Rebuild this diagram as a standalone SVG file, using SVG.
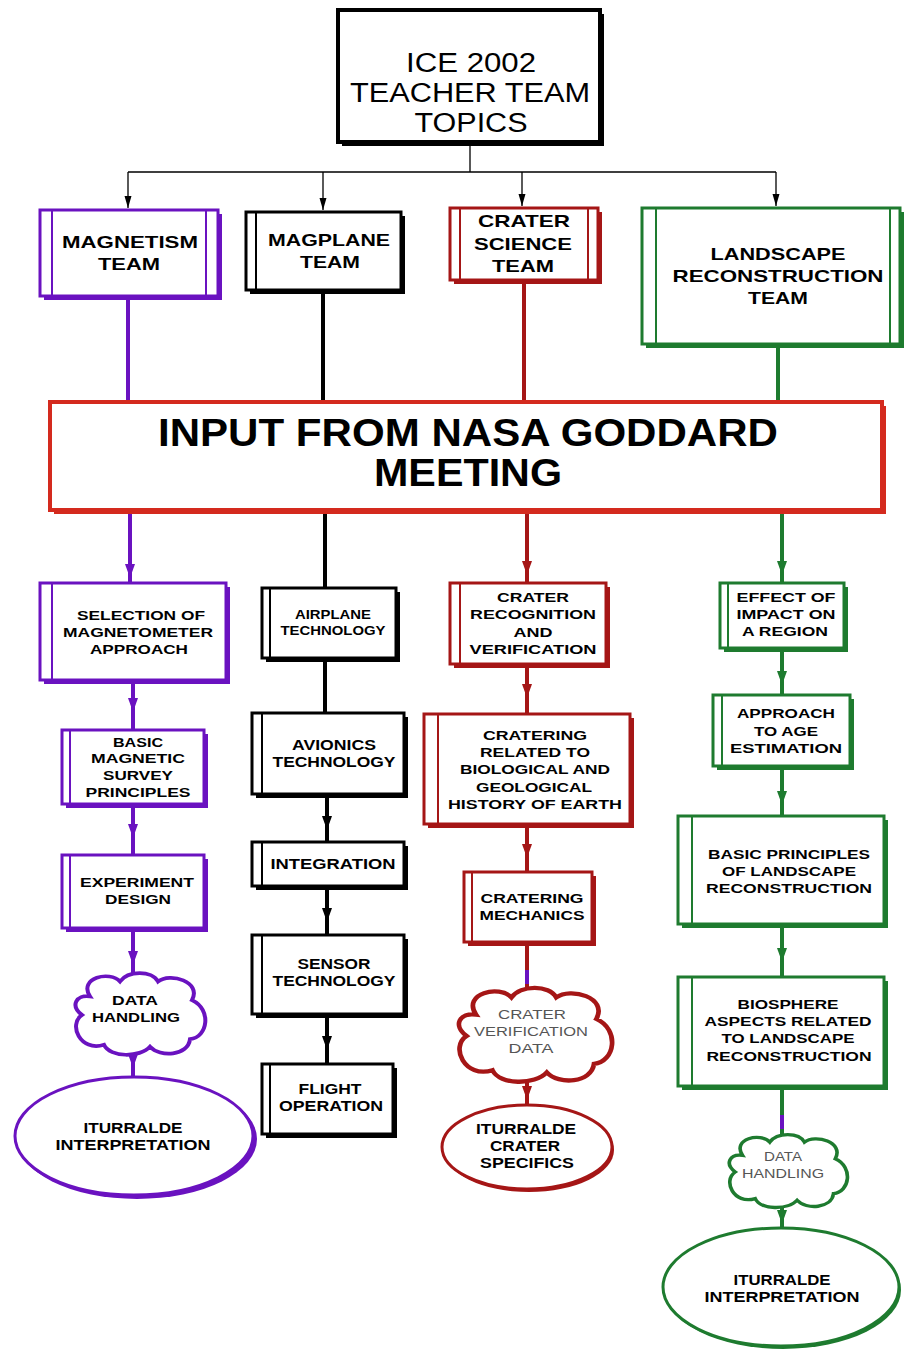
<svg xmlns="http://www.w3.org/2000/svg" width="905" height="1353" viewBox="0 0 905 1353">
<style>
text{font-family:"Liberation Sans",Arial,sans-serif;text-anchor:middle;font-weight:bold;fill:#000}
.bx{fill:#fff;stroke-width:3}
.st{stroke-width:2;fill:none}
.sp{stroke:#6a12c0}.fp{fill:#6a12c0}
.sk{stroke:#000}.fk{fill:#000}
.sr{stroke:#a51616}.fr{fill:#a51616}
.sg{stroke:#1e7b2f}.fg{fill:#1e7b2f}
.sn{stroke:#d42a1e}.fn{fill:#d42a1e}
.c{stroke-width:4;fill:none}
.thin{stroke:#000;stroke-width:1.3;fill:none}
.cl{fill:#fff;stroke-width:4;vector-effect:non-scaling-stroke}
.gray{font-weight:normal;fill:#555}
</style>
<defs>
<marker id="ak" viewBox="0 -6 16 12" refX="14" refY="0" markerWidth="16" markerHeight="12" markerUnits="userSpaceOnUse" orient="auto"><path d="M0,-5 L14,0 L0,5 Z" fill="#000"/></marker>
<marker id="ap" viewBox="0 -6 16 12" refX="14" refY="0" markerWidth="16" markerHeight="12" markerUnits="userSpaceOnUse" orient="auto"><path d="M0,-5 L14,0 L0,5 Z" fill="#6a12c0"/></marker>
<marker id="ar" viewBox="0 -6 16 12" refX="14" refY="0" markerWidth="16" markerHeight="12" markerUnits="userSpaceOnUse" orient="auto"><path d="M0,-5 L14,0 L0,5 Z" fill="#a51616"/></marker>
<marker id="ag" viewBox="0 -6 16 12" refX="14" refY="0" markerWidth="16" markerHeight="12" markerUnits="userSpaceOnUse" orient="auto"><path d="M0,-5 L14,0 L0,5 Z" fill="#1e7b2f"/></marker>
<marker id="at" viewBox="0 -5 12 10" refX="12" refY="0" markerWidth="12" markerHeight="10" markerUnits="userSpaceOnUse" orient="auto"><path d="M0,-3.5 L12,0 L0,3.5 Z" fill="#000"/></marker>
<path id="cloud" d="M-50,-20 C-62,-40 -30,-48 -20,-36 C-12,-48 12,-48 18,-36 C30,-46 62,-36 52,-16 C72,-6 68,24 50,26 C48,44 20,46 10,34 C0,46 -30,46 -36,32 C-60,40 -72,10 -58,0 C-70,-10 -64,-22 -50,-20 Z"/>
</defs>

<g id="connectors">
<path class="thin" d="M470,146 V172 M128,172 H776"/>
<path class="thin" d="M128,172 V208" marker-end="url(#at)"/>
<path class="thin" d="M323,172 V210" marker-end="url(#at)"/>
<path class="thin" d="M522,172 V206" marker-end="url(#at)"/>
<path class="thin" d="M776,172 V206" marker-end="url(#at)"/>
<path class="c sp" d="M128,300 V402"/>
<path class="c sk" d="M323,294 V402"/>
<path class="c sr" d="M524,284 V402"/>
<path class="c sg" d="M778,348 V402"/>
<path class="c sp" d="M130,514 V578 V583" marker-mid="url(#ap)"/>
<path class="c sp" d="M133,684 V712 V730" marker-mid="url(#ap)"/>
<path class="c sp" d="M133,808 V838 V855" marker-mid="url(#ap)"/>
<path class="c sp" d="M133,932 V965 V978" marker-mid="url(#ap)"/>
<path class="c sp" d="M133,1050 V1068 V1076" marker-mid="url(#ap)"/>
<path class="c sk" d="M325,514 V588"/>
<path class="c sk" d="M325,662 V713"/>
<path class="c sk" d="M327,798 V830 V842" marker-mid="url(#ak)"/>
<path class="c sk" d="M327,890 V922 V935" marker-mid="url(#ak)"/>
<path class="c sk" d="M327,1018 V1050 V1064" marker-mid="url(#ak)"/>
<path class="c sr" d="M527,514 V575 V583" marker-mid="url(#ar)"/>
<path class="c sr" d="M527,668 V698 V714" marker-mid="url(#ar)"/>
<path class="c sr" d="M527,828 V858 V872" marker-mid="url(#ar)"/>
<path class="c sr" d="M527,946 V990"/>
<path class="c sp" d="M527,970 V984"/>
<path class="c sr" d="M527,1080 V1100 V1106" marker-mid="url(#ar)"/>
<path class="c sg" d="M782,514 V575 V583" marker-mid="url(#ag)"/>
<path class="c sg" d="M782,652 V685 V695" marker-mid="url(#ag)"/>
<path class="c sg" d="M782,770 V805 V816" marker-mid="url(#ag)"/>
<path class="c sg" d="M782,928 V962 V977" marker-mid="url(#ag)"/>
<path class="c sg" d="M782,1090 V1138"/>
<path class="c sp" d="M782,1115 V1129"/>
<path class="c sg" d="M782,1205 V1224 V1228" marker-mid="url(#ag)"/>
</g>

<g id="title">
<rect class="fk" x="342" y="14" width="262" height="132"/>
<rect class="bx sk" style="stroke-width:4" x="338" y="10" width="262" height="132"/>
<text style="font-weight:normal;font-size:27px" x="471" y="72" textLength="130" lengthAdjust="spacingAndGlyphs">ICE 2002</text>
<text style="font-weight:normal;font-size:27px" x="470" y="102" textLength="240" lengthAdjust="spacingAndGlyphs">TEACHER TEAM</text>
<text style="font-weight:normal;font-size:27px" x="471" y="132" textLength="113" lengthAdjust="spacingAndGlyphs">TOPICS</text>
</g>

<g id="magnetism-team">
<rect class="fp" x="44" y="214" width="178" height="86"/>
<rect class="bx sp" x="40" y="210" width="178" height="86"/>
<path class="st sp" d="M52,210 V296 M206,210 V296"/>
<text style="font-size:17px" x="130" y="248" textLength="136" lengthAdjust="spacingAndGlyphs">MAGNETISM</text>
<text style="font-size:17px" x="129" y="270" textLength="62" lengthAdjust="spacingAndGlyphs">TEAM</text>
</g>
<g id="magplane-team">
<rect class="fk" x="250" y="216" width="155" height="78"/>
<rect class="bx sk" x="246" y="212" width="155" height="78"/>
<path class="st sk" d="M256,212 V290"/>
<text style="font-size:17px" x="329" y="246" textLength="122" lengthAdjust="spacingAndGlyphs">MAGPLANE</text>
<text style="font-size:17px" x="330" y="268" textLength="60" lengthAdjust="spacingAndGlyphs">TEAM</text>
</g>
<g id="crater-team">
<rect class="fr" x="454" y="212" width="148" height="72"/>
<rect class="bx sr" x="450" y="208" width="148" height="72"/>
<path class="st sr" d="M460,208 V280 M588,208 V280"/>
<text style="font-size:17px" x="524" y="227" textLength="92" lengthAdjust="spacingAndGlyphs">CRATER</text>
<text style="font-size:17px" x="523" y="250" textLength="98" lengthAdjust="spacingAndGlyphs">SCIENCE</text>
<text style="font-size:17px" x="523" y="272" textLength="62" lengthAdjust="spacingAndGlyphs">TEAM</text>
</g>
<g id="landscape-team">
<rect class="fg" x="646" y="212" width="258" height="136"/>
<rect class="bx sg" x="642" y="208" width="258" height="136"/>
<path class="st sg" d="M656,208 V344 M890,208 V344"/>
<text style="font-size:17px" x="778" y="260" textLength="135" lengthAdjust="spacingAndGlyphs">LANDSCAPE</text>
<text style="font-size:17px" x="778" y="282" textLength="211" lengthAdjust="spacingAndGlyphs">RECONSTRUCTION</text>
<text style="font-size:17px" x="778" y="304" textLength="60" lengthAdjust="spacingAndGlyphs">TEAM</text>
</g>

<g id="nasa">
<rect class="fn" x="54" y="406" width="832" height="108"/>
<rect class="bx sn" style="stroke-width:4" x="50" y="402" width="832" height="108"/>
<text style="font-size:38px" x="468" y="446" textLength="620" lengthAdjust="spacingAndGlyphs">INPUT  FROM NASA GODDARD</text>
<text style="font-size:38px" x="468" y="486" textLength="188" lengthAdjust="spacingAndGlyphs">MEETING</text>
</g>

<g id="selection" style="font-size:13px">
<rect class="fp" x="44" y="587" width="186" height="97"/>
<rect class="bx sp" x="40" y="583" width="186" height="97"/>
<path class="st sp" d="M52,583 V680"/>
<text style="font-size:13px" x="141" y="620" textLength="128" lengthAdjust="spacingAndGlyphs">SELECTION OF</text>
<text style="font-size:13px" x="138" y="637" textLength="150" lengthAdjust="spacingAndGlyphs">MAGNETOMETER</text>
<text style="font-size:13px" x="139" y="654" textLength="98" lengthAdjust="spacingAndGlyphs">APPROACH</text>
</g>
<g id="basic-magnetic">
<rect class="fp" x="66" y="734" width="142" height="74"/>
<rect class="bx sp" x="62" y="730" width="142" height="74"/>
<path class="st sp" d="M70,730 V804"/>
<text style="font-size:13px" x="138" y="747" textLength="50" lengthAdjust="spacingAndGlyphs">BASIC</text>
<text style="font-size:13px" x="138" y="763" textLength="94" lengthAdjust="spacingAndGlyphs">MAGNETIC</text>
<text style="font-size:13px" x="138" y="780" textLength="70" lengthAdjust="spacingAndGlyphs">SURVEY</text>
<text style="font-size:13px" x="138" y="797" textLength="105" lengthAdjust="spacingAndGlyphs">PRINCIPLES</text>
</g>
<g id="experiment">
<rect class="fp" x="66" y="859" width="142" height="73"/>
<rect class="bx sp" x="62" y="855" width="142" height="73"/>
<path class="st sp" d="M70,855 V928"/>
<text style="font-size:13px" x="137" y="887" textLength="114" lengthAdjust="spacingAndGlyphs">EXPERIMENT</text>
<text style="font-size:13px" x="138" y="904" textLength="66" lengthAdjust="spacingAndGlyphs">DESIGN</text>
</g>
<g id="data-handling-1">
<use href="#cloud" class="cl sp" transform="translate(140,1015) scale(1,0.93)"/>
<text style="font-size:13px" x="135" y="1005" textLength="46" lengthAdjust="spacingAndGlyphs">DATA</text>
<text style="font-size:13px" x="136" y="1022" textLength="88" lengthAdjust="spacingAndGlyphs">HANDLING</text>
</g>
<g id="iturralde-1">
<ellipse class="fp" cx="137" cy="1139" rx="120" ry="60"/>
<ellipse class="bx sp" cx="134" cy="1136" rx="119" ry="59"/>
<text style="font-size:14px" x="133" y="1133" textLength="99" lengthAdjust="spacingAndGlyphs">ITURRALDE</text>
<text style="font-size:14px" x="133" y="1150" textLength="155" lengthAdjust="spacingAndGlyphs">INTERPRETATION</text>
</g>

<g id="airplane">
<rect class="fk" x="266" y="592" width="134" height="70"/>
<rect class="bx sk" x="262" y="588" width="134" height="70"/>
<path class="st sk" d="M270,588 V658"/>
<text style="font-size:12px" x="333" y="619" textLength="76" lengthAdjust="spacingAndGlyphs">AIRPLANE</text>
<text style="font-size:12px" x="333" y="635" textLength="105" lengthAdjust="spacingAndGlyphs">TECHNOLOGY</text>
</g>
<g id="avionics">
<rect class="fk" x="256" y="717" width="152" height="81"/>
<rect class="bx sk" x="252" y="713" width="152" height="81"/>
<path class="st sk" d="M262,713 V794"/>
<text style="font-size:14px" x="334" y="750" textLength="84" lengthAdjust="spacingAndGlyphs">AVIONICS</text>
<text style="font-size:14px" x="334" y="767" textLength="123" lengthAdjust="spacingAndGlyphs">TECHNOLOGY</text>
</g>
<g id="integration">
<rect class="fk" x="256" y="846" width="152" height="44"/>
<rect class="bx sk" x="252" y="842" width="152" height="44"/>
<path class="st sk" d="M262,842 V886"/>
<text style="font-size:14px" x="333" y="869" textLength="125" lengthAdjust="spacingAndGlyphs">INTEGRATION</text>
</g>
<g id="sensor">
<rect class="fk" x="256" y="939" width="152" height="79"/>
<rect class="bx sk" x="252" y="935" width="152" height="79"/>
<path class="st sk" d="M262,935 V1014"/>
<text style="font-size:14px" x="334" y="969" textLength="73" lengthAdjust="spacingAndGlyphs">SENSOR</text>
<text style="font-size:14px" x="334" y="986" textLength="123" lengthAdjust="spacingAndGlyphs">TECHNOLOGY</text>
</g>
<g id="flight">
<rect class="fk" x="266" y="1068" width="131" height="70"/>
<rect class="bx sk" x="262" y="1064" width="131" height="70"/>
<path class="st sk" d="M270,1064 V1134"/>
<text style="font-size:14px" x="330" y="1094" textLength="63" lengthAdjust="spacingAndGlyphs">FLIGHT</text>
<text style="font-size:14px" x="331" y="1111" textLength="104" lengthAdjust="spacingAndGlyphs">OPERATION</text>
</g>

<g id="crater-recognition">
<rect class="fr" x="454" y="587" width="156" height="81"/>
<rect class="bx sr" x="450" y="583" width="156" height="81"/>
<path class="st sr" d="M460,583 V664"/>
<text style="font-size:13px" x="533" y="602" textLength="72" lengthAdjust="spacingAndGlyphs">CRATER</text>
<text style="font-size:13px" x="533" y="619" textLength="126" lengthAdjust="spacingAndGlyphs">RECOGNITION</text>
<text style="font-size:13px" x="533" y="637" textLength="39" lengthAdjust="spacingAndGlyphs">AND</text>
<text style="font-size:13px" x="533" y="654" textLength="127" lengthAdjust="spacingAndGlyphs">VERIFICATION</text>
</g>
<g id="cratering-related">
<rect class="fr" x="428" y="718" width="206" height="110"/>
<rect class="bx sr" x="424" y="714" width="206" height="110"/>
<path class="st sr" d="M438,714 V824"/>
<text style="font-size:13px" x="535" y="740" textLength="104" lengthAdjust="spacingAndGlyphs">CRATERING</text>
<text style="font-size:13px" x="535" y="757" textLength="110" lengthAdjust="spacingAndGlyphs">RELATED TO</text>
<text style="font-size:13px" x="535" y="774" textLength="150" lengthAdjust="spacingAndGlyphs">BIOLOGICAL AND</text>
<text style="font-size:13px" x="534" y="792" textLength="116" lengthAdjust="spacingAndGlyphs">GEOLOGICAL</text>
<text style="font-size:13px" x="535" y="809" textLength="174" lengthAdjust="spacingAndGlyphs">HISTORY OF EARTH</text>
</g>
<g id="cratering-mechanics">
<rect class="fr" x="468" y="876" width="128" height="70"/>
<rect class="bx sr" x="464" y="872" width="128" height="70"/>
<path class="st sr" d="M472,872 V942"/>
<text style="font-size:13px" x="532" y="903" textLength="103" lengthAdjust="spacingAndGlyphs">CRATERING</text>
<text style="font-size:13px" x="532" y="920" textLength="105" lengthAdjust="spacingAndGlyphs">MECHANICS</text>
</g>
<g id="crater-verification-data">
<use href="#cloud" class="cl sr" transform="translate(535,1036) scale(1.18,1.07)"/>
<text class="gray" style="font-size:13px" x="532" y="1019" textLength="68" lengthAdjust="spacingAndGlyphs">CRATER</text>
<text class="gray" style="font-size:13px" x="531" y="1036" textLength="114" lengthAdjust="spacingAndGlyphs">VERIFICATION</text>
<text class="gray" style="font-size:13px" x="531" y="1053" textLength="45" lengthAdjust="spacingAndGlyphs">DATA</text>
</g>
<g id="crater-specifics">
<ellipse class="fr" cx="529" cy="1150" rx="85" ry="42"/>
<ellipse class="bx sr" cx="527" cy="1147" rx="85" ry="42"/>
<text style="font-size:14px" x="526" y="1134" textLength="100" lengthAdjust="spacingAndGlyphs">ITURRALDE</text>
<text style="font-size:14px" x="525" y="1151" textLength="70" lengthAdjust="spacingAndGlyphs">CRATER</text>
<text style="font-size:14px" x="527" y="1168" textLength="94" lengthAdjust="spacingAndGlyphs">SPECIFICS</text>
</g>

<g id="effect-of-impact">
<rect class="fg" x="724" y="587" width="124" height="65"/>
<rect class="bx sg" x="720" y="583" width="124" height="65"/>
<path class="st sg" d="M728,583 V648"/>
<text style="font-size:13px" x="786" y="602" textLength="99" lengthAdjust="spacingAndGlyphs">EFFECT OF</text>
<text style="font-size:13px" x="786" y="619" textLength="99" lengthAdjust="spacingAndGlyphs">IMPACT ON</text>
<text style="font-size:13px" x="785" y="636" textLength="86" lengthAdjust="spacingAndGlyphs">A REGION</text>
</g>
<g id="approach-age">
<rect class="fg" x="717" y="699" width="137" height="71"/>
<rect class="bx sg" x="713" y="695" width="137" height="71"/>
<path class="st sg" d="M722,695 V766"/>
<text style="font-size:13px" x="786" y="718" textLength="98" lengthAdjust="spacingAndGlyphs">APPROACH</text>
<text style="font-size:13px" x="786" y="736" textLength="64" lengthAdjust="spacingAndGlyphs">TO AGE</text>
<text style="font-size:13px" x="786" y="753" textLength="112" lengthAdjust="spacingAndGlyphs">ESTIMATION</text>
</g>
<g id="basic-principles">
<rect class="fg" x="682" y="820" width="206" height="108"/>
<rect class="bx sg" x="678" y="816" width="206" height="108"/>
<path class="st sg" d="M692,816 V924"/>
<text style="font-size:13px" x="789" y="859" textLength="162" lengthAdjust="spacingAndGlyphs">BASIC PRINCIPLES</text>
<text style="font-size:13px" x="789" y="876" textLength="134" lengthAdjust="spacingAndGlyphs">OF LANDSCAPE</text>
<text style="font-size:13px" x="789" y="893" textLength="166" lengthAdjust="spacingAndGlyphs">RECONSTRUCTION</text>
</g>
<g id="biosphere">
<rect class="fg" x="682" y="981" width="206" height="109"/>
<rect class="bx sg" x="678" y="977" width="206" height="109"/>
<path class="st sg" d="M692,977 V1086"/>
<text style="font-size:13px" x="788" y="1009" textLength="101" lengthAdjust="spacingAndGlyphs">BIOSPHERE</text>
<text style="font-size:13px" x="788" y="1026" textLength="167" lengthAdjust="spacingAndGlyphs">ASPECTS RELATED</text>
<text style="font-size:13px" x="788" y="1043" textLength="133" lengthAdjust="spacingAndGlyphs">TO LANDSCAPE</text>
<text style="font-size:13px" x="789" y="1061" textLength="165" lengthAdjust="spacingAndGlyphs">RECONSTRUCTION</text>
</g>
<g id="data-handling-2">
<use href="#cloud" class="cl sg" transform="translate(788,1172) scale(0.91,0.83)"/>
<text class="gray" style="font-size:13px" x="783" y="1161" textLength="38" lengthAdjust="spacingAndGlyphs">DATA</text>
<text class="gray" style="font-size:13px" x="783" y="1178" textLength="82" lengthAdjust="spacingAndGlyphs">HANDLING</text>
</g>
<g id="iturralde-2">
<ellipse class="fg" cx="783" cy="1290" rx="118" ry="59"/>
<ellipse class="bx sg" cx="781" cy="1287" rx="118" ry="59"/>
<text style="font-size:14px" x="782" y="1285" textLength="97" lengthAdjust="spacingAndGlyphs">ITURRALDE</text>
<text style="font-size:14px" x="782" y="1302" textLength="155" lengthAdjust="spacingAndGlyphs">INTERPRETATION</text>
</g>
</svg>
